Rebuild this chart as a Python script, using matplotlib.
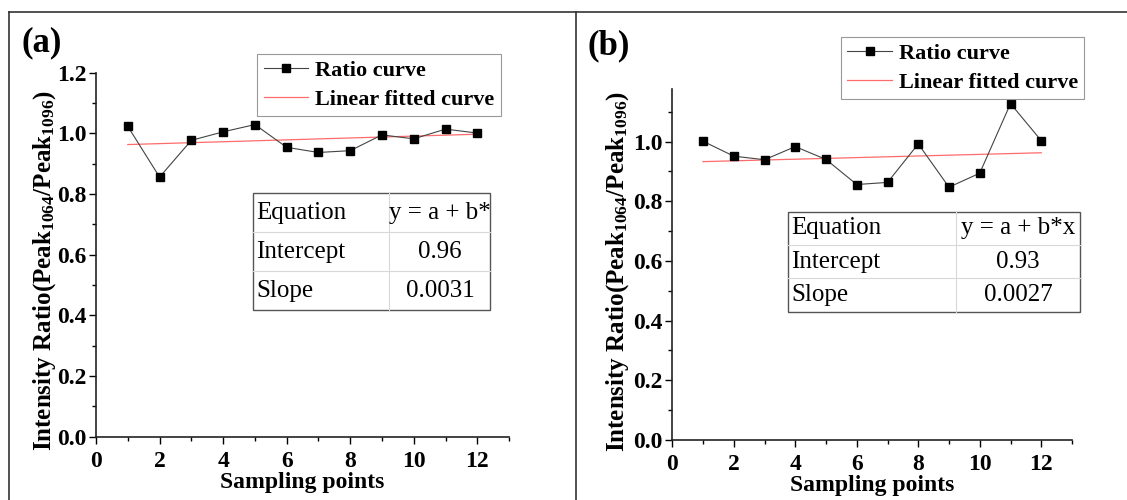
import numpy as np
import matplotlib.pyplot as plt
from matplotlib.lines import Line2D
from matplotlib.patches import Rectangle
from matplotlib.ticker import MultipleLocator

# ---- data ----
points = [1, 2, 3, 4, 5, 6, 7, 8, 9, 10, 11, 12]
ratio_a = [1.023, 0.856, 0.977, 1.005, 1.029, 0.954, 0.937, 0.943, 0.995, 0.982, 1.014, 1.001]
ratio_b = [1.001, 0.951, 0.939, 0.983, 0.940, 0.856, 0.863, 0.992, 0.847, 0.894, 1.127, 1.003]

# linear fit parameters shown in the tables
intercept_a, slope_a = 0.96, 0.0031
intercept_b, slope_b = 0.93, 0.0027
table_a = [["Equation", "y = a + b*"], ["Intercept", "0.96"], ["Slope", "0.0031"]]
table_b = [["Equation", "y = a + b*x"], ["Intercept", "0.93"], ["Slope", "0.0027"]]

plt.rcParams['font.family'] = ['Liberation Serif', 'DejaVu Serif']
plt.rcParams['mathtext.fontset'] = 'custom'
plt.rcParams['mathtext.rm'] = 'Liberation Serif:bold'
plt.rcParams['mathtext.it'] = 'Liberation Serif:bold'
plt.rcParams['mathtext.bf'] = 'Liberation Serif:bold'

fig = plt.figure(figsize=(11.27, 5.0), dpi=100)

ylabel = r'Intensity Ratio(Peak$_{1064}$/Peak$_{1096}$)'


def draw_table(ax, rows, x0, y0, x1, y1, split):
    # rows drawn top to bottom inside an axes-fraction box
    n = len(rows)
    h = (y1 - y0) / n
    for i in range(1, n):
        ax.add_line(Line2D([x0, x1], [y1 - i * h] * 2, transform=ax.transAxes,
                           color='#d8d8d8', lw=0.8, clip_on=False))
    ax.add_line(Line2D([split, split], [y0, y1], transform=ax.transAxes,
                       color='#d8d8d8', lw=0.8, clip_on=False))
    ax.add_patch(Rectangle((x0, y0), x1 - x0, y1 - y0, transform=ax.transAxes,
                           fill=True, facecolor='white', edgecolor='#555555',
                           lw=1.0, clip_on=False, zorder=0.5))
    for i, (k, v) in enumerate(rows):
        yc = y1 - (i + 0.5) * h
        ax.text(x0 + 0.008, yc, k, transform=ax.transAxes, fontsize=18,
                ha='left', va='center')
        ax.text((split + x1) / 2, yc, v, transform=ax.transAxes, fontsize=18,
                ha='center', va='center')


def panel(rect, ratio, a, b, ytop, yticks, leg_xy, tab, tab_box, ylab_xy):
    ax = fig.add_axes(rect)
    x = np.array(points)
    ax.plot(x, a + b * x, color='#ff6b6b', lw=0.9, label='Linear fitted curve')
    ax.plot(points, ratio, color='#444444', lw=0.8, marker='s', ms=5.5,
            mfc='black', mec='black', label='Ratio curve')
    ax.set_xlim(0, 13)
    ax.set_ylim(0, ytop)
    ax.xaxis.set_major_locator(MultipleLocator(2))
    ax.xaxis.set_minor_locator(MultipleLocator(1))
    ax.set_yticks(yticks)
    ax.yaxis.set_minor_locator(MultipleLocator(0.1))
    ax.yaxis.set_major_formatter(plt.FormatStrFormatter('%.1f'))
    for s in ['top', 'right']:
        ax.spines[s].set_visible(False)
    for s in ['left', 'bottom']:
        ax.spines[s].set_linewidth(1.2)
        ax.spines[s].set_color('#222222')
    ax.tick_params(which='major', direction='out', length=5, width=1.0,
                   labelsize=17, pad=2)
    ax.tick_params(axis='x', which='major', pad=5)
    ax.tick_params(which='minor', direction='out', length=3, width=1.0)
    for lab in ax.get_xticklabels() + ax.get_yticklabels():
        lab.set_fontweight('bold')
    ax.set_xlabel('Sampling points', fontsize=17, fontweight='bold', labelpad=0)
    ax.set_ylabel(ylabel, fontsize=18, fontweight='bold')
    ax.yaxis.set_label_coords(*ylab_xy)
    h, l = ax.get_legend_handles_labels()
    leg = ax.legend(h[::-1], l[::-1], loc='upper left', bbox_to_anchor=leg_xy,
                    bbox_transform=fig.transFigure, borderaxespad=0,
                    fancybox=False, edgecolor='#999999', framealpha=1,
                    prop={'weight': 'bold', 'size': 16}, handlelength=2.0,
                    handletextpad=0.3, labelspacing=0.35, borderpad=0.3)
    leg.get_frame().set_linewidth(0.8)
    draw_table(ax, tab, *tab_box)
    return ax


panel([0.0852, 0.1266, 0.3665, 0.728], ratio_a, intercept_a, slope_a, 1.2,
      [0.0, 0.2, 0.4, 0.6, 0.8, 1.0, 1.2], (0.228, 0.892), table_a,
      (0.380, 0.347, 0.955, 0.669, 0.380 + 0.575 * 0.574), (-0.092, 0.455))
panel([0.5965, 0.12, 0.3547, 0.7014], ratio_b, intercept_b, slope_b, 1.175,
      [0.0, 0.2, 0.4, 0.6, 0.8, 1.0], (0.746, 0.926), table_b,
      (0.290, 0.366, 1.019, 0.651, 0.290 + 0.729 * 0.577), (-0.103, 0.479))

fig.text(0.019, 0.915, '(a)', fontsize=25, fontweight='bold', va='center')
fig.text(0.521, 0.909, '(b)', fontsize=25, fontweight='bold', va='center')

# outer frame lines
fig.add_artist(Line2D([9 / 1127, 1], [0.976, 0.976], color='#333333', lw=1.2))
fig.add_artist(Line2D([9 / 1127, 9 / 1127], [0, 0.976], color='#333333', lw=1.2))
fig.add_artist(Line2D([576 / 1127, 576 / 1127], [0, 0.976], color='#333333', lw=1.2))

fig.savefig('out.png', dpi=100)
